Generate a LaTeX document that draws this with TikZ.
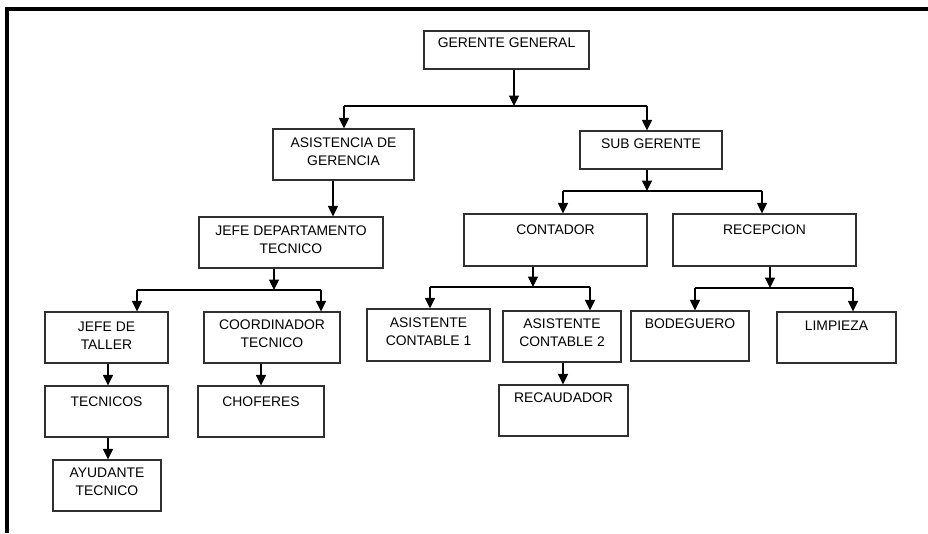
\documentclass[tikz,border=0pt]{standalone}
\usepackage{fontspec}
\setmainfont{Liberation Sans}
\usetikzlibrary{arrows.meta}
\definecolor{boxline}{HTML}{303030}
\tikzset{
  % one post of the chart: width, height, top gap, text
  orgbox/.style n args={4}{draw=boxline, line width=1.1pt, inner sep=0pt,
                 minimum width=#1pt, minimum height=#2pt,
                 label={[boxtext, yshift=-#3pt]north:#4}},
  % text hangs from the upper edge of the box
  boxtext/.style={anchor=north, align=center, inner sep=0pt,
                  font=\fontsize{13.9}{18}\selectfont},
  conn/.style={line width=1.1pt},
  arr/.style={conn, -{Triangle[length=10.5pt,width=10pt]}},
}
\begin{document}
\begin{tikzpicture}[x=1pt, y=-1pt]
  \useasboundingbox (0,0) rectangle (928,533);
  % frame, only top and left
  \draw[line width=3.8pt] (928,9) -- (7.2,9) -- (7.2,533);

  \node[orgbox={165}{38}{7}{GERENTE GENERAL}]             (gg)    at (506.5,50)    {};
  \node[orgbox={141}{51}{9}{ASISTENCIA DE\\GERENCIA}]      (asis)  at (343.5,154.5) {};
  \node[orgbox={142}{38}{8}{SUB GERENTE}]                  (sub)   at (651,150)     {};
  \node[orgbox={184}{51}{9}{JEFE DEPARTAMENTO\\TECNICO}]   (jdt)   at (291,242.5)   {};
  \node[orgbox={183}{52}{11}{CONTADOR}]                    (cont)  at (555.5,240)   {};
  \node[orgbox={183}{52}{11}{RECEPCION}]                   (recep) at (764.5,240)   {};
  \node[orgbox={123}{51}{10}{JEFE DE\\TALLER}]             (taller) at (106.5,337.5) {};
  \node[orgbox={136}{51}{8}{COORDINADOR\\TECNICO}]         (coord) at (272,337.5)   {};
  \node[orgbox={123}{52}{9}{ASISTENTE\\CONTABLE 1}]        (ac1)   at (428.5,335)   {};
  \node[orgbox={118}{51}{8}{ASISTENTE\\CONTABLE 2}]        (ac2)   at (562,336.5)   {};
  \node[orgbox={118}{50}{8}{BODEGUERO}]                    (bodeg) at (690,336)     {};
  \node[orgbox={119}{51}{9}{LIMPIEZA}]                     (limp)  at (836.5,337.5) {};
  \node[orgbox={123}{51}{11}{TECNICOS}]                    (tec)   at (106.5,411.5) {};
  \node[orgbox={126}{51}{11}{CHOFERES}]                    (chof)  at (261,411.5)   {};
  \node[orgbox={129}{51}{8}{RECAUDADOR}]                   (recau) at (563.5,410.5) {};
  \node[orgbox={108}{51}{8}{AYUDANTE\\TECNICO}]            (ayud)  at (107,485.5)   {};

  % branches: parent / stem x / bar y / left end / right end / children
  \foreach \up/\x/\y/\l/\r/\lbox/\rbox in {gg/514/106/344/647/asis/sub,
      sub/647/191/563/762/cont/recep, jdt/274/290/137/321/taller/coord,
      cont/533/287/430/590/ac1/ac2, recep/770/288/695/853/bodeg/limp}{
    \coordinate (\up-j) at (\x,\y);
    \coordinate (\up-l) at (\l,\y);
    \coordinate (\up-r) at (\r,\y);
    \draw[arr] (\up.south -| \up-j) -- (\up-j);
    \draw[conn] (\up-l) -- (\up-r);
    \draw[arr] (\up-l) -- (\up-l |- \lbox.north);
    \draw[arr] (\up-r) -- (\up-r |- \rbox.north);
  }

  % single links
  \draw[arr] ([xshift=-10.5pt]asis.south) -- ([xshift=-10.5pt]asis.south |- jdt.north);
  \draw[arr] ([xshift=1.5pt]taller.south) -- ([xshift=1.5pt]taller.south |- tec.north);
  \draw[arr] ([xshift=1.5pt]tec.south) -- ([xshift=1.5pt]tec.south |- ayud.north);
  \draw[arr] (chof.north |- coord.south) -- (chof.north);
  \draw[arr] ([xshift=1pt]ac2.south) -- ([xshift=1pt]ac2.south |- recau.north);
\end{tikzpicture}
\end{document}
